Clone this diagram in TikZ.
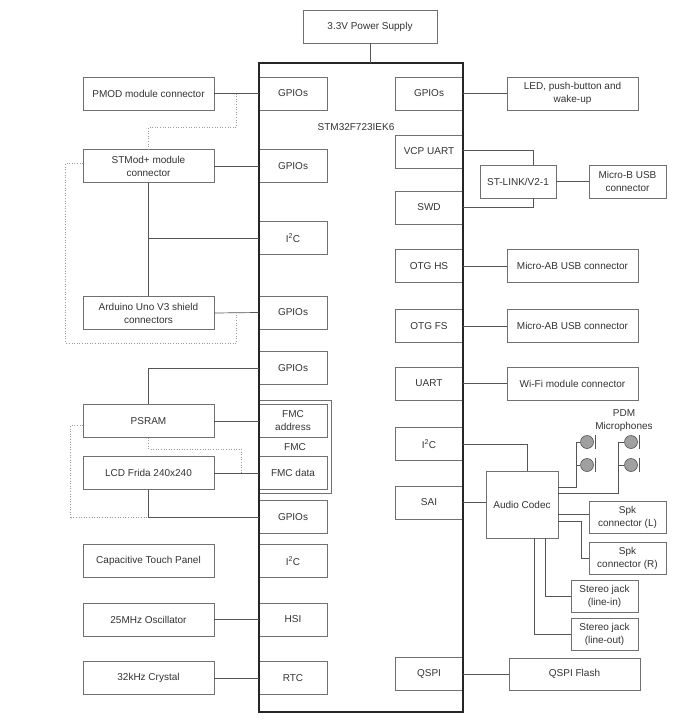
\documentclass[tikz,border=0pt]{standalone}
\usepackage{fontspec}
\setmainfont{Liberation Sans}
\definecolor{tx}{HTML}{333333}
\definecolor{bx}{HTML}{707070}
\definecolor{ln}{HTML}{555555}
\definecolor{dl}{HTML}{9A9A9A}
\definecolor{mc}{HTML}{A0A0A0}
\begin{document}
\begin{tikzpicture}[x=1pt,y=-1pt,
  every node/.style={font=\fontsize{10}{13}\selectfont, text=tx},
  box/.style={draw=bx, line width=0.6pt, fill=white, inner sep=1pt, align=center, minimum height=33pt},
  ext/.style={box, minimum width=131pt},
  inl/.style={box, minimum width=68pt},
  wire/.style={draw=ln, line width=0.7pt},
  dotline/.style={draw=dl, line width=0.6pt, dotted},
  mic/.style={circle, draw=ln, line width=0.6pt, fill=mc, minimum size=13pt, inner sep=0pt},
]
\useasboundingbox[fill=white] (0,0) rectangle (678,720);

% power and MCU
\node[box, minimum width=134pt] (power) at (370,26.5) {3.3V Power Supply};
\node[fill=white, minimum width=204pt, minimum height=649pt, inner sep=0pt] (mcu) at (361,387.5) {};
\node (mculab) at (356,127) {STM32F723IEK6};

% left external
\node[ext] (pmod) at (148.5,93.5) {PMOD module connector};
\node[ext] (stmod) at (148.5,166) {STMod+ module\\connector};
\node[ext] (ard) at (148.5,313) {Arduino Uno V3 shield\\connectors};
\node[ext] (psram) at (148.5,421) {PSRAM};
\node[ext] (lcd) at (148.5,473) {LCD Frida 240x240};
\node[ext] (ctp) at (148.5,561) {Capacitive Touch Panel};
\node[ext] (osc) at (148.5,619.5) {25MHz Oscillator};
\node[ext] (xtal) at (148.5,678) {32kHz Crystal};

% left inner
\node[inl] (lg1) at (293,93.5) {GPIOs};
\node[inl] (lg2) at (293,166) {GPIOs};
\node[inl] (li2c) at (293,238) {I\textsuperscript{2}C};
\node[inl] (lg3) at (293,312.5) {GPIOs};
\node[inl] (lg4) at (293,368) {GPIOs};
\node[box, minimum width=72pt, minimum height=93pt] (fmc) at (295,446.5) {};
\node (fmclab) at (295,447) {FMC};
\node[inl] (fmca) at (293,421) {FMC\\address};
\node[inl] (fmcd) at (293,473) {FMC data};
\node[inl] (lg5) at (293,517) {GPIOs};
\node[inl] (li2cb) at (293,561) {I\textsuperscript{2}C};
\node[inl] (hsi) at (293,619.5) {HSI};
\node[inl] (rtc) at (293,678) {RTC};

% right inner
\node[inl] (rg1) at (429,93.5) {GPIOs};
\node[inl] (vcp) at (429,151.5) {VCP UART};
\node[inl] (swd) at (429,207.5) {SWD};
\node[inl] (otghs) at (429,266) {OTG HS};
\node[inl] (otgfs) at (429,326) {OTG FS};
\node[inl] (uart) at (429,383.5) {UART};
\node[inl] (ri2c) at (429,444) {I\textsuperscript{2}C};
\node[inl] (sai) at (429,502.5) {SAI};
\node[inl] (qspi) at (429,674) {QSPI};

% MCU border on top
\draw[line width=1.8pt, draw=black!85] (mcu.north west) rectangle (mcu.south east);

% right external
\node[ext] (led) at (572.5,93.5) {LED, push-button and\\wake-up};
\node[box, minimum width=76pt] (stlink) at (518,181.5) {ST-LINK/V2-1};
\node[box, minimum width=77pt] (microb) at (627.5,181.5) {Micro-B USB\\connector};
\node[ext] (usbhs) at (572.5,266) {Micro-AB USB connector};
\node[ext] (usbfs) at (572.5,326) {Micro-AB USB connector};
\node[ext] (wifi) at (572.5,383.5) {Wi-Fi module connector};
\node[box, minimum width=72pt, minimum height=67pt] (codec) at (522,504.5) {Audio Codec};
\node[box, minimum width=77pt, minimum height=32pt] (spkl) at (627.5,517) {Spk\\connector (L)};
\node[box, minimum width=77pt, minimum height=32pt] (spkr) at (627.5,558) {Spk\\connector (R)};
\node[box, minimum width=67pt, minimum height=32pt] (jin) at (604.5,596) {Stereo jack\\(line-in)};
\node[box, minimum width=67pt, minimum height=32pt] (jout) at (604.5,634) {Stereo jack\\(line-out)};
\node[ext, minimum height=32pt] (qflash) at (574.5,674) {QSPI Flash};

% microphones
\node[align=center] (pdm) at (624,421) {PDM\\Microphones};
\node[mic] (m1) at (587,442) {};
\node[mic] (m2) at (587,465) {};
\node[mic] (m3) at (631,442) {};
\node[mic] (m4) at (631,465) {};
\foreach \m in {m1,m2,m3,m4}
  \draw[wire] ([xshift=1.2pt]\m.east) ++(0,-7) -- ++(0,14);

% connectors: power
\draw[wire] (power.south) -- (power.south |- mcu.north);

% left connectors
\draw[wire] (pmod.east) -- (lg1.west);
\draw[dotline] ([xshift=22pt]pmod.east) -- ++(0,33.5) -| (stmod.north);
\draw[wire] (stmod.east) -- (lg2.west);
\draw[wire] (stmod.south) -- (ard.north);
\draw[wire] (stmod.south |- li2c.west) -- (li2c.west);
\draw[dotline] ([yshift=3pt]stmod.west) -- ++(-17,0) -- ++(0,180) -| ([xshift=22pt]ard.east);
\draw[wire] (ard.east) -- (lg3.west);
\draw[wire] (psram.north) |- (lg4.west);
\draw[wire] (psram.east) -- (fmca.west);
\draw[dotline] (psram.south) -- ++(0,11) -| ([xshift=27pt]lcd.east);
\draw[wire] (lcd.east) -- (fmcd.west);
\draw[wire] (lcd.south) |- (lg5.west);
\draw[dotline] ([yshift=-4pt]psram.west) -- ++(-12,0) |- (lcd.south |- lg5.west);
\draw[wire] (osc.east) -- (hsi.west);
\draw[wire] (xtal.east) -- (rtc.west);

% right connectors
\draw[wire] (rg1.east) -- (led.west);
\draw[wire] ([yshift=1.5pt]vcp.east) -| ([xshift=15pt]stlink.north);
\draw[wire] (swd.east) -| ([xshift=15pt]stlink.south);
\draw[wire] (stlink.east) -- (microb.west);
\draw[wire] (otghs.east) -- (usbhs.west);
\draw[wire] (otgfs.east) -- (usbfs.west);
\draw[wire] (uart.east) -- (wifi.west);
\draw[wire] (ri2c.east) -| ([xshift=5pt]codec.north);
\draw[wire] (sai.east) -- (codec.west |- sai.east);
\draw[wire] ([yshift=17.5pt]codec.east) -| ([xshift=-4pt]m1.west) -- (m1.west);
\draw[wire] (m2.west) -- ([xshift=-4pt]m2.west);
\draw[wire] ([yshift=11.5pt]codec.east) -| ([xshift=-6pt]m3.west) -- (m3.west);
\draw[wire] (m4.west) -- ([xshift=-6pt]m4.west);
\draw[wire] ([yshift=-9.5pt]codec.east) -- ([yshift=3pt]spkl.west);
\draw[wire] ([yshift=-16.5pt]codec.east) -| ([xshift=-7pt]spkr.west) -- (spkr.west);
\draw[wire] ([xshift=23pt]codec.south) |- (jin.west);
\draw[wire] ([xshift=12pt]codec.south) |- (jout.west);
\draw[wire] (qspi.east) -- (qflash.west);
\end{tikzpicture}
\end{document}
